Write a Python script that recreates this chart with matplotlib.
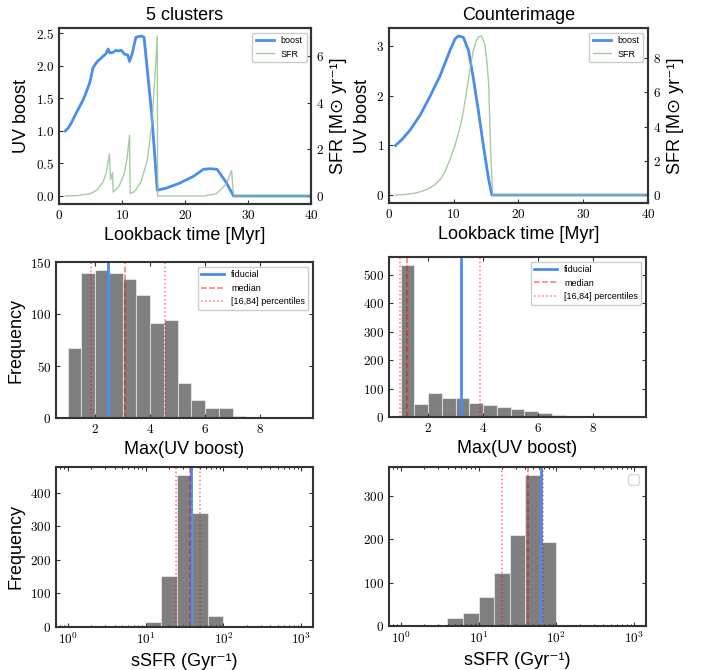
import numpy as np
import matplotlib
matplotlib.use("Agg")
import matplotlib.pyplot as plt
from matplotlib.legend import Legend
from matplotlib.ticker import MultipleLocator

plt.rcParams['font.family'] = 'cmr10'
plt.rcParams['mathtext.fontset'] = 'cm'
plt.rcParams['axes.formatter.use_mathtext'] = True
plt.rcParams['axes.unicode_minus'] = False

SANS = ['Liberation Sans', 'DejaVu Sans']
BLUE = '#4a8cf0'
GREEN = '#8fbf8a'

# --- top row: SFH and UV boost vs lookback time ---
clus_boost_t = [1.0, 1.5, 2.0, 2.6, 3.3, 3.8, 4.3, 4.9, 5.4, 5.8, 6.2, 6.6, 7.0, 7.4, 7.8,
                8.05, 8.6, 9.0, 9.4, 9.9, 10.4, 10.9, 11.2, 11.6, 12.2, 13.1, 13.5, 14.7,
                15.6, 17.0, 19.2, 21.3, 22.9, 24.0, 25.1, 26.6, 27.7, 40.0]
clus_boost = [1.0, 1.05, 1.13, 1.25, 1.38, 1.47, 1.59, 1.75, 1.97, 2.03, 2.08, 2.11, 2.15,
              2.18, 2.26, 2.20, 2.21, 2.24, 2.23, 2.24, 2.18, 2.17, 2.07, 2.18, 2.44, 2.46,
              2.44, 1.28, 0.09, 0.12, 0.20, 0.30, 0.41, 0.42, 0.41, 0.20, 0.0, 0.0]
clus_sfr_t = [1.0, 3.0, 5.0, 6.0, 7.0, 7.5, 8.0, 8.2, 8.5, 8.6, 9.5, 10.3, 10.8, 11.2, 11.3,
              12.0, 13.0, 14.0, 14.7, 15.2, 15.6, 15.65, 23.0, 25.0, 26.5, 27.4, 27.7, 40.0]
clus_sfr = [0.0, 0.02, 0.1, 0.25, 0.6, 1.0, 1.8, 0.7, 1.0, 0.17, 0.4, 0.9, 1.6, 2.6, 0.1,
            0.2, 0.6, 1.5, 3.0, 5.0, 6.85, 0.0, 0.0, 0.1, 0.5, 1.1, 0.0, 0.0]

ci_boost_t = [1.0, 2.0, 3.25, 4.8, 6.3, 7.9, 9.4, 10.2, 10.7, 11.5, 12.3, 13.0, 13.8, 14.6,
              15.4, 15.9, 40.0]
ci_boost = [1.0, 1.12, 1.31, 1.61, 1.98, 2.41, 2.91, 3.15, 3.21, 3.18, 2.91, 2.38, 1.71,
            0.98, 0.31, 0.0, 0.0]
ci_sfr_t = [1.0, 3.0, 4.3, 5.3, 6.3, 7.1, 7.9, 8.7, 9.4, 10.2, 11.0, 11.5, 12.0, 12.5, 13.0,
            13.4, 13.8, 14.3, 14.8, 15.1, 15.4, 15.7, 16.0, 40.0]
ci_sfr = [0.0, 0.05, 0.13, 0.25, 0.42, 0.62, 0.9, 1.4, 2.06, 2.9, 3.99, 4.9, 6.1, 7.3, 8.4,
          8.95, 9.23, 9.29, 8.8, 7.9, 6.5, 2.64, 0.0, 0.0]

# --- middle row: max UV boost histograms ---
maxb_edges = np.arange(1.0, 9.51, 0.5)
clus_maxb_counts = [67, 139, 142, 139, 134, 118, 91, 94, 34, 17, 10, 10, 2, 1, 1, 0, 0]
ci_maxb_counts = [535, 47, 86, 65, 67, 48, 42, 35, 29, 22, 13, 7, 5, 2, 1, 1, 1]
clus_maxb_lines = dict(fid=2.46, med=3.08, p16=1.85, p84=4.55)
ci_maxb_lines = dict(fid=3.21, med=1.24, p16=0.99, p84=3.89)

# --- bottom row: sSFR histograms ---
ssfr_edges = np.logspace(0, 3, 16)
clus_ssfr_counts = [0, 0, 0, 0, 0, 15, 151, 454, 339, 33, 0, 0, 0, 0, 0]
ci_ssfr_counts = [0, 0, 1, 18, 31, 67, 122, 210, 350, 193, 0, 0, 0, 0, 0]
clus_ssfr_lines = dict(fid=38.5, med=37.5, p16=24.7, p84=49.3)
ci_ssfr_lines = dict(fid=62.5, med=43.4, p16=20.1, p84=66.3)


def style_axes(ax, top=True, right=True):
    for s in ax.spines.values():
        s.set_linewidth(1.5)
        s.set_color('#333333')
    ax.tick_params(direction='in', top=top, right=right, labelsize=9.5, length=3,
                   color='#333333')
    ax.tick_params(which='minor', direction='in', top=top, right=right, length=1.5)


def sfh_panel(ax, title, bt, b, st, s):
    ax.plot(bt, b, color=BLUE, lw=2, label='boost')
    ax2 = ax.twinx()
    ax2.plot(st, s, color=GREEN, lw=1, alpha=0.8, label='SFR')
    ax.set_xlim(0, 40)
    ax.set_title(title, family=SANS, fontsize=13)
    ax.set_xlabel('Lookback time [Myr]', family=SANS, fontsize=13)
    ax.set_ylabel('UV boost', family=SANS, fontsize=13)
    ax2.set_ylabel('SFR [M⊙ yr⁻¹]', family=SANS, fontsize=13)
    style_axes(ax, top=False, right=False)
    style_axes(ax2, top=False, right=True)
    h1, l1 = ax.get_legend_handles_labels()
    h2, l2 = ax2.get_legend_handles_labels()
    ax2.legend(h1 + h2, l1 + l2, loc='upper right', prop={'family': SANS, 'size': 6.5},
               fancybox=True, framealpha=1, edgecolor='#cccccc')


def hist_panel(ax, edges, counts, lines, xlabel, ylabel=None, legend=True, empty_legend=False):
    edges = np.asarray(edges)
    if ax.get_xscale() == 'log':
        centers = np.sqrt(edges[:-1] * edges[1:])
    else:
        centers = 0.5 * (edges[:-1] + edges[1:])
    ax.hist(centers, bins=edges, weights=counts, color='k', alpha=0.5, edgecolor='white',
            linewidth=0.8)
    ax.axvline(lines['fid'], color=BLUE, lw=2, label='fiducial')
    ax.axvline(lines['med'], color='red', ls='--', lw=1.1, alpha=0.55, label='median')
    ax.axvline(lines['p16'], color='red', ls=':', lw=1.1, alpha=0.55, label='[16,84] percentiles')
    ax.axvline(lines['p84'], color='red', ls=':', lw=1.1, alpha=0.55)
    ax.set_xlabel(xlabel, family=SANS, fontsize=13)
    if ylabel:
        ax.set_ylabel(ylabel, family=SANS, fontsize=13)
    style_axes(ax)
    if legend:
        ax.legend(loc='upper right', prop={'family': SANS, 'size': 6.5}, fancybox=True,
                  framealpha=1, edgecolor='#cccccc', handlelength=2.5)
    if empty_legend:
        leg = Legend(ax, [], [], loc='upper right', fancybox=True, edgecolor='#cccccc')
        ax.add_artist(leg)


fig = plt.figure(figsize=(7.08, 6.70), dpi=100)

ax_tl = fig.add_axes([0.0833, 0.6955, 0.356, 0.2627])
ax_tr = fig.add_axes([0.5494, 0.697, 0.3658, 0.2612])
ax_ml = fig.add_axes([0.0791, 0.3761, 0.363, 0.2328])
ax_mr = fig.add_axes([0.5494, 0.3776, 0.363, 0.2388])
ax_bl = fig.add_axes([0.0791, 0.0642, 0.363, 0.2388])
ax_br = fig.add_axes([0.5494, 0.0657, 0.363, 0.2373])

sfh_panel(ax_tl, '5 clusters', clus_boost_t, clus_boost, clus_sfr_t, clus_sfr)
sfh_panel(ax_tr, 'Counterimage', ci_boost_t, ci_boost, ci_sfr_t, ci_sfr)

hist_panel(ax_ml, maxb_edges, clus_maxb_counts, clus_maxb_lines, 'Max(UV boost)', 'Frequency')
ax_ml.set_ylim(0, 150)
hist_panel(ax_mr, maxb_edges, ci_maxb_counts, ci_maxb_lines, 'Max(UV boost)')
ax_mr.yaxis.set_major_locator(MultipleLocator(100))

ax_bl.set_xscale('log')
ax_br.set_xscale('log')
hist_panel(ax_bl, ssfr_edges, clus_ssfr_counts, clus_ssfr_lines, 'sSFR (Gyr⁻¹)', 'Frequency',
           legend=False)
hist_panel(ax_br, ssfr_edges, ci_ssfr_counts, ci_ssfr_lines, 'sSFR (Gyr⁻¹)', legend=False,
           empty_legend=True)

fig.savefig('out.png', dpi=100)
